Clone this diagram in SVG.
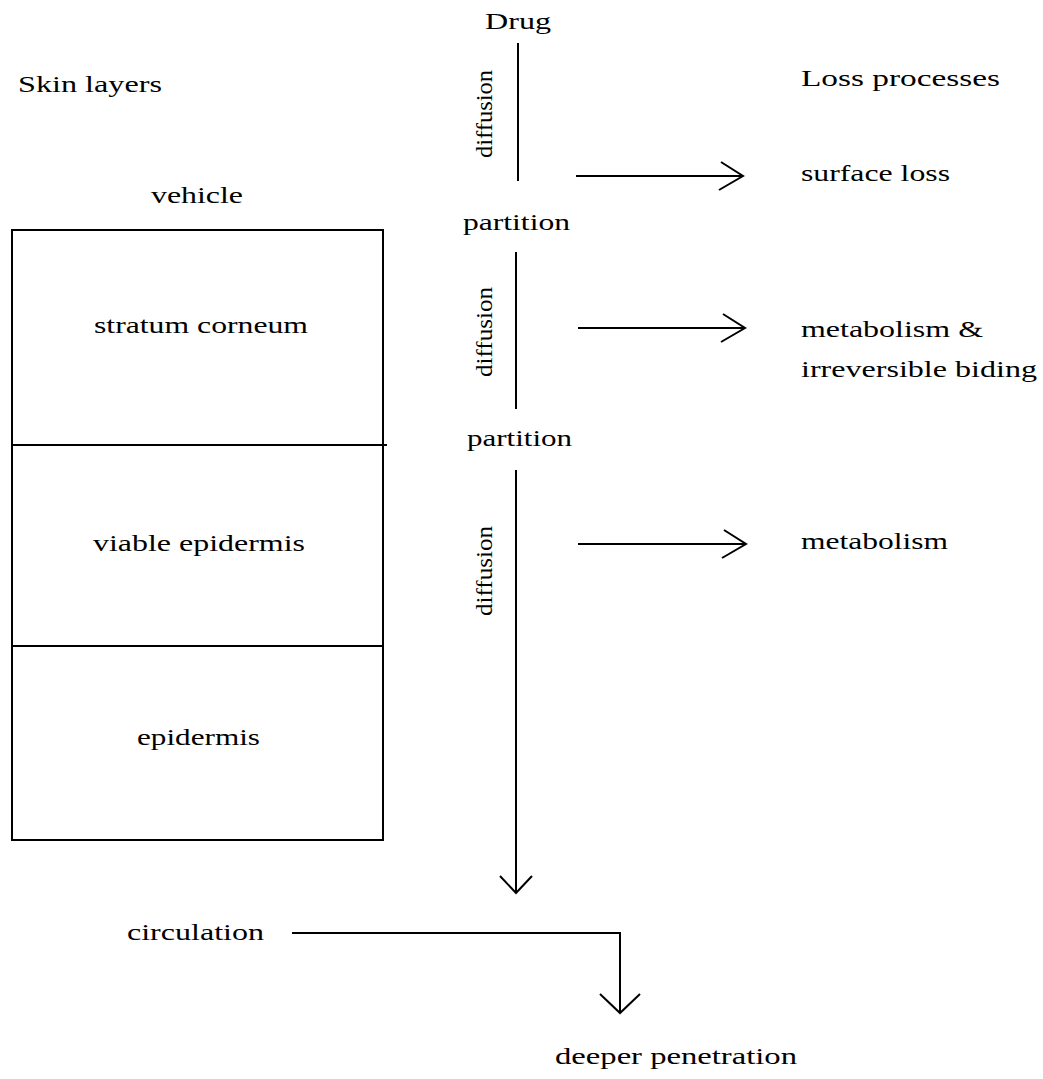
<svg xmlns="http://www.w3.org/2000/svg" width="1043" height="1079" viewBox="0 0 1043 1079">
<style>
text{font-family:"Liberation Serif","Times New Roman",serif;font-size:24px;fill:#000}
.ln{stroke:#000;stroke-width:2;fill:none}
.ah{stroke:#000;stroke-width:2;fill:none}
</style>
<rect width="1043" height="1079" fill="#fff"/>
<g id="titles">
<text x="18" y="92" textLength="144" lengthAdjust="spacingAndGlyphs">Skin layers</text>
<text x="801" y="86" textLength="199" lengthAdjust="spacingAndGlyphs">Loss processes</text>
</g>
<g id="vehicle"><text x="151" y="203" textLength="92" lengthAdjust="spacingAndGlyphs">vehicle</text></g>
<g id="skin-box">
<rect x="12" y="230" width="371" height="610" class="ln"/>
<line x1="12" y1="445" x2="387" y2="445" class="ln"/>
<line x1="12" y1="646" x2="383" y2="646" class="ln"/>
</g>
<g id="stratum-corneum"><text x="94" y="333" textLength="214" lengthAdjust="spacingAndGlyphs">stratum corneum</text></g>
<g id="viable-epidermis"><text x="93" y="551" textLength="212" lengthAdjust="spacingAndGlyphs">viable epidermis</text></g>
<g id="epidermis"><text x="137" y="745" textLength="123" lengthAdjust="spacingAndGlyphs">epidermis</text></g>
<g id="drug"><text x="485" y="29" textLength="66" lengthAdjust="spacingAndGlyphs">Drug</text></g>
<g id="partition1"><text x="463" y="230" textLength="107" lengthAdjust="spacingAndGlyphs">partition</text></g>
<g id="partition2"><text x="467" y="446" textLength="105" lengthAdjust="spacingAndGlyphs">partition</text></g>
<g id="diffusion-labels">
<text transform="translate(492,158) rotate(-90)" textLength="88" lengthAdjust="spacingAndGlyphs">diffusion</text>
<text transform="translate(492,377) rotate(-90)" textLength="90" lengthAdjust="spacingAndGlyphs">diffusion</text>
<text transform="translate(492,616) rotate(-90)" textLength="90" lengthAdjust="spacingAndGlyphs">diffusion</text>
</g>
<g id="surface-loss"><text x="801" y="181" textLength="149" lengthAdjust="spacingAndGlyphs">surface loss</text></g>
<g id="metabolism-binding">
<text x="801" y="337" textLength="182" lengthAdjust="spacingAndGlyphs">metabolism &amp;</text>
<text x="801" y="377" textLength="236" lengthAdjust="spacingAndGlyphs">irreversible biding</text>
</g>
<g id="metabolism"><text x="801" y="549" textLength="147" lengthAdjust="spacingAndGlyphs">metabolism</text></g>
<g id="circulation"><text x="127" y="940" textLength="137" lengthAdjust="spacingAndGlyphs">circulation</text></g>
<g id="deeper-penetration"><text x="555" y="1064" textLength="242" lengthAdjust="spacingAndGlyphs">deeper penetration</text></g>
<g id="connectors">
<line x1="518" y1="43" x2="518" y2="181" class="ln"/>
<line x1="516" y1="252" x2="516" y2="409" class="ln"/>
<line x1="516" y1="470" x2="516" y2="893" class="ln"/>
<polyline points="500,876 516,893 532,876" class="ah"/>
<line x1="576" y1="176" x2="743" y2="176" class="ln"/>
<polyline points="721,162 743,176 719,190" class="ah"/>
<line x1="578" y1="328" x2="745" y2="328" class="ln"/>
<polyline points="723,314 745,328 721,342" class="ah"/>
<line x1="578" y1="544" x2="746" y2="544" class="ln"/>
<polyline points="724,530 746,544 722,558" class="ah"/>
<polyline points="292,933 620,933 620,1013" class="ln"/>
<polyline points="600,994 620,1013 640,994" class="ah"/>
</g>
</svg>
